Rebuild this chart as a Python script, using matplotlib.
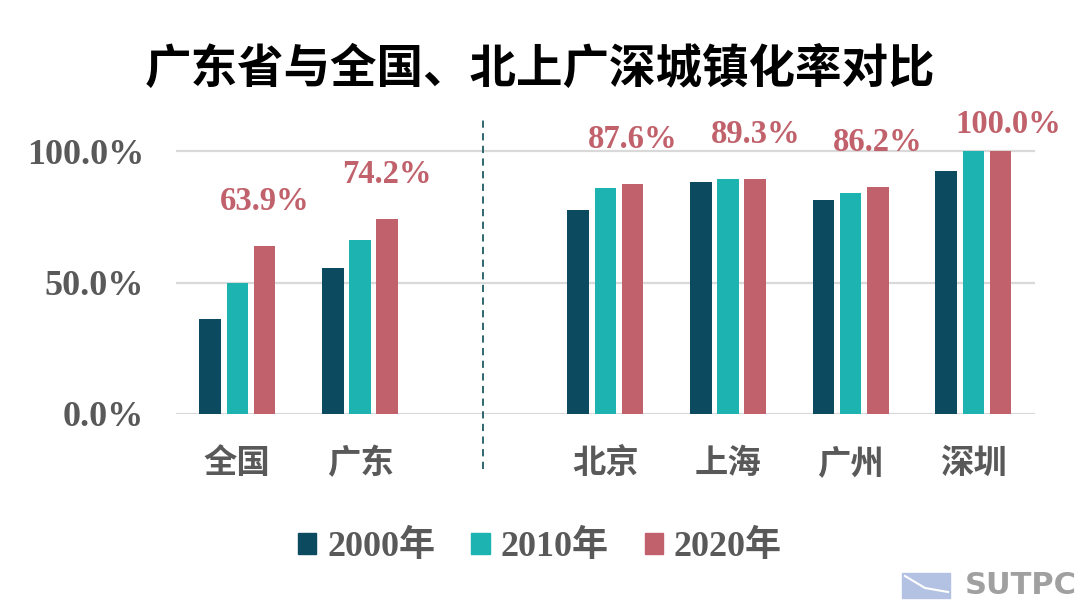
import numpy as np
import matplotlib.pyplot as plt
from matplotlib.patches import Patch, Rectangle

# urbanisation rate (%)
regions = ["全国", "广东", "", "北京", "上海", "广州", "深圳"]
rate_2000 = [36.0, 55.6, np.nan, 77.6, 88.3, 81.4, 92.4]
rate_2010 = [49.7, 66.2, np.nan, 85.9, 89.2, 83.9, 100.0]
rate_2020 = [63.9, 74.2, np.nan, 87.6, 89.3, 86.2, 100.0]
years = ["2000年", "2010年", "2020年"]
y_ticks = [0, 50, 100]

colors = ["#0B4A5F", "#1CB3B1", "#C0616B"]
serif = ["Liberation Serif", "Noto Sans CJK SC"]
cjk = ["Noto Sans CJK SC", "DejaVu Sans"]
grey = "#595959"

fig = plt.figure(figsize=(10.8, 6.04), dpi=100)
ax = fig.add_axes([0.163, 0.3146, 0.795, 0.4789])

x = np.arange(len(regions))
bw = 0.176
step = 0.222
series = [rate_2000, rate_2010, rate_2020]
for i, vals in enumerate(series):
    ax.bar(x + (i - 1) * step, vals, bw, color=colors[i], zorder=3)

# labels on the 2020 bars
for xi, v in zip(x, rate_2020):
    if np.isnan(v):
        continue
    dy, dx = (29, 0) if v < 100 else (11, 8)
    ax.annotate(f"{v:.1f}%", (xi + step, v), xytext=(dx * 0.72, dy * 0.72),
                textcoords="offset points", ha="center", va="bottom",
                fontsize=23.5, fontweight="bold", color="#C0616B",
                family=serif, annotation_clip=False)

ax.set_xlim(-0.5, 6.5)
ax.set_ylim(0, 110)
ax.set_yticks(y_ticks)
ax.set_yticklabels([f"{t:.1f}%" for t in y_ticks], family=serif,
                   fontsize=26, fontweight="bold", color=grey)
ax.set_xticks(x)
ax.set_xticklabels(regions, family=cjk, fontsize=24, fontweight="bold",
                   color=grey)
ax.tick_params(length=0, axis="y", pad=23)
ax.tick_params(length=0, axis="x", pad=24)
ax.grid(axis="y", color="#D9D9D9", lw=1.6, zorder=0)
for s in ax.spines.values():
    s.set_visible(False)

# dashed divider between the two groups
ax.plot([2, 2], [-21, 112], ls=(0, (4, 3)), color="#1F5A63", lw=1.3,
        clip_on=False, zorder=4)

fig.text(0.5, 0.886, "广东省与全国、北上广深城镇化率对比", ha="center",
         va="center", fontsize=33.5, fontweight="bold", family=cjk,
         color="black")

handles = [Patch(color=c) for c in colors]
fig.legend(handles, years, loc="center", bbox_to_anchor=(0.5, 0.094),
           ncol=3, frameon=False, handlelength=0.5, handleheight=0.5,
           handletextpad=0.3, columnspacing=1.0,
           prop={"family": serif, "size": 26, "weight": "bold"},
           labelcolor=grey)

# watermark
fig.patches.append(Rectangle((902 / 1080, 6 / 604), 48 / 1080, 25 / 604,
                             transform=fig.transFigure, color="#B3C2E2"))
fig.lines.append(plt.Line2D([905 / 1080, 925 / 1080, 948 / 1080],
                            [28 / 604, 16 / 604, 12 / 604],
                            transform=fig.transFigure, color="white", lw=1.5))
fig.text(965 / 1080, 18 / 604, "SUTPC", ha="left", va="center",
         fontsize=22, fontweight="bold", family="DejaVu Sans",
         color="#A0A0A0")

fig.savefig("out.png", dpi=100)
